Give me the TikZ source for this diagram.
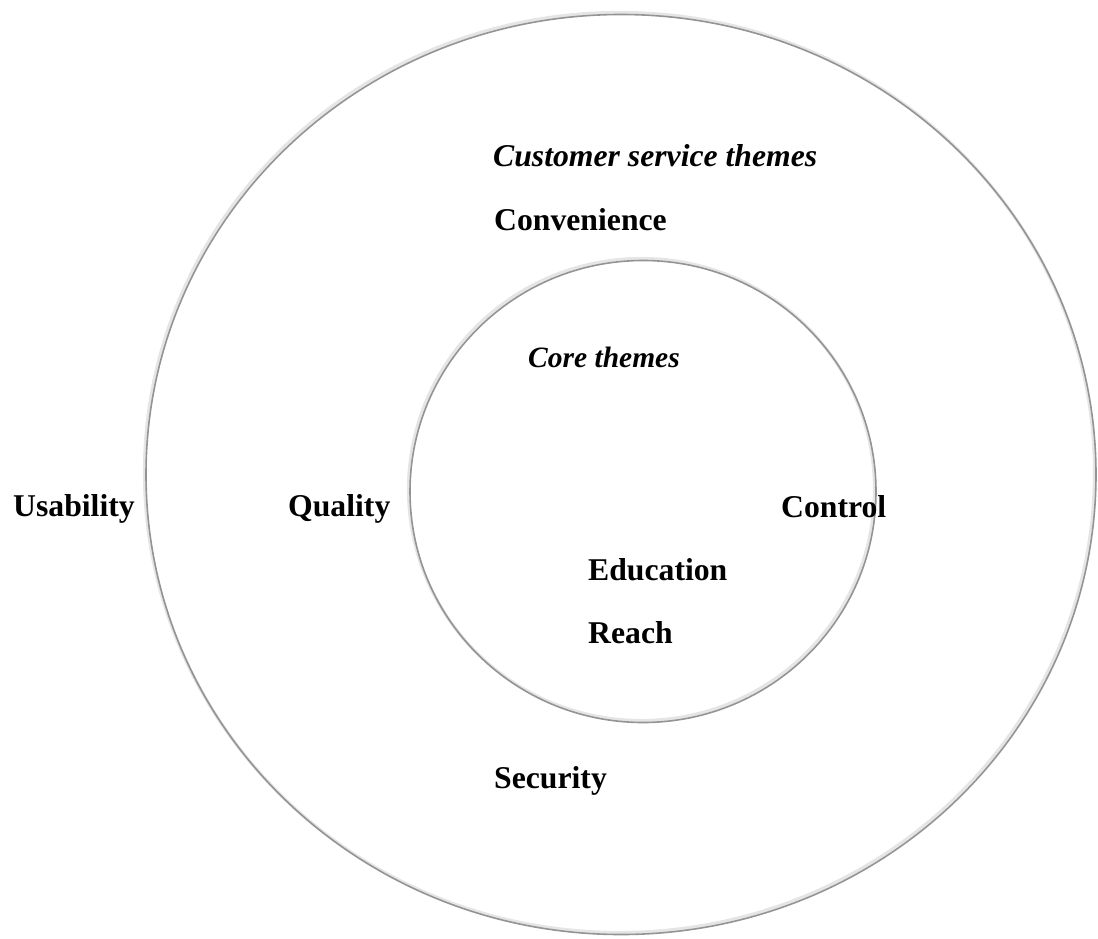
\documentclass[tikz,border=0pt]{standalone}
\usepackage{fontspec}
\setmainfont{Liberation Serif}
\begin{document}
\begin{tikzpicture}[x=1pt,y=-1pt,
  lbl/.style={anchor=base west,inner sep=0pt,font=\fontsize{31.7}{36}\selectfont\bfseries},
  ilbl/.style={anchor=base west,inner sep=0pt,font=\fontsize{31.7}{36}\selectfont\bfseries\itshape},
  ringshadow/.style={draw=black!42,line width=1.6pt},
  ringlight/.style={draw=black!10,line width=3.2pt}]
\useasboundingbox (0,0) rectangle (1098,938);
% outer ring
\draw[ringlight] (619.5,472.5) ellipse [x radius=475, y radius=460];
\draw[ringshadow] (621,474.5) ellipse [x radius=475, y radius=460];
% inner ring
\draw[ringlight] (641.5,489.5) ellipse [x radius=233, y radius=231];
\draw[ringshadow] (643,491.5) ellipse [x radius=233, y radius=231];
% labels
\node[ilbl] (cst) at (493,166) {Customer service themes};
\node[lbl] (conv) at (494,230) {Convenience};
\node[ilbl,font=\fontsize{29.5}{34}\selectfont\bfseries\itshape] (core) at (528,367) {Core themes};
\node[lbl] (usab) at (13,516) {Usability};
\node[lbl] (qual) at (288,516) {Quality};
\node[lbl] (ctrl) at (781,517) {Control};
\node[lbl] (edu) at (588,580) {Education};
\node[lbl] (reach) at (588,643) {Reach};
\node[lbl] (sec) at (494,788) {Security};
\end{tikzpicture}
\end{document}
